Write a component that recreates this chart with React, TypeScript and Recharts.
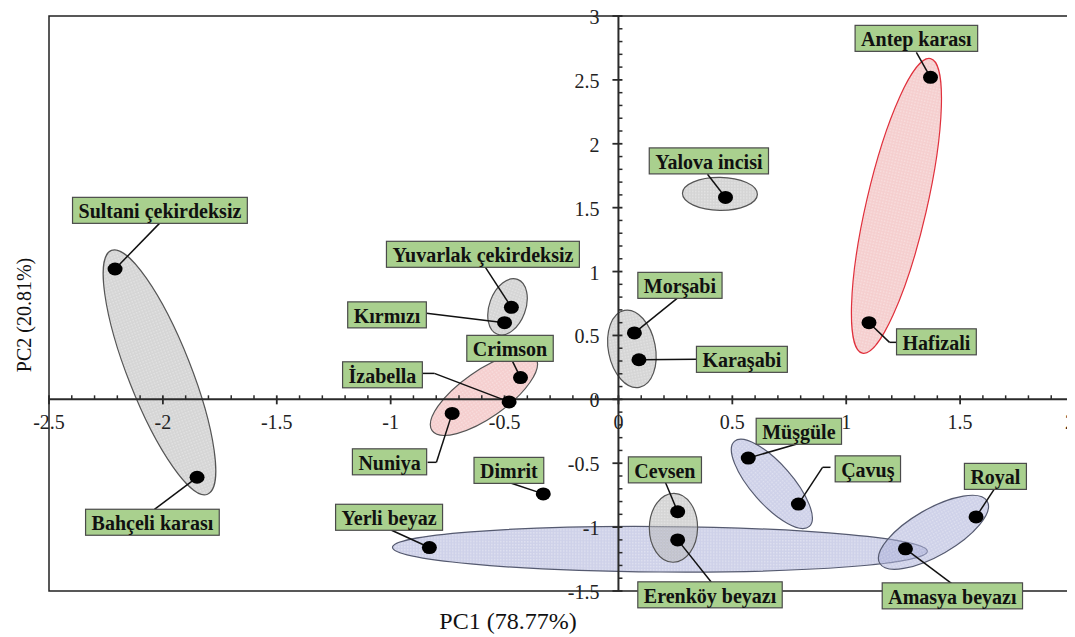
import {
  ScatterChart,
  Scatter,
  XAxis,
  YAxis,
  ReferenceArea,
  ReferenceLine,
  ReferenceDot,
} from "recharts";

const cultivars = [
  "Sultani çekirdeksiz", "Bahçeli karası", "Yuvarlak çekirdeksiz", "Kırmızı", "Crimson",
  "İzabella", "Nuniya", "Dimrit", "Yerli beyaz", "Cevsen",
  "Erenköy beyazı", "Morşabi", "Karaşabi", "Yalova incisi", "Antep karası",
  "Hafizali", "Müşgüle", "Çavuş", "Royal", "Amasya beyazı",
];
const pc1 = [-2.21, -1.85, -0.47, -0.5, -0.43, -0.48, -0.73, -0.33, -0.83, 0.26, 0.26, 0.07, 0.09, 0.47, 1.37, 1.1, 0.57, 0.79, 1.57, 1.26];
const pc2 = [1.02, -0.61, 0.72, 0.6, 0.17, -0.02, -0.11, -0.74, -1.16, -0.88, -1.1, 0.52, 0.31, 1.58, 2.52, 0.6, -0.46, -0.82, -0.92, -1.17];

// label box centres (data units)
const labelX = [-2.013, -2.046, -0.595, -1.016, -0.476, -1.036, -1.005, -0.481, -1.007, 0.204, 0.402, 0.27, 0.542, 0.397, 1.308, 1.396, 0.792, 1.095, 1.655, 1.466];
const labelY = [1.479, -0.962, 1.135, 0.661, 0.399, 0.192, -0.489, -0.556, -0.923, -0.552, -1.53, 0.892, 0.313, 1.866, 2.825, 0.45, -0.25, -0.544, -0.603, -1.538];
// leader path from each dot to its box edge
const leaders: [number, number][][] = [
  [[-2.015, 1.377]],
  [[-2.037, -0.861]],
  [[-0.584, 1.033]],
  [[-0.843, 0.673]],
  [[-0.465, 0.297]],
  [[-0.808, 0.203], [-0.86, 0.203]],
  [[-0.799, -0.493], [-0.838, -0.493]],
  [[-0.47, -0.657]],
  [[-0.996, -1.025]],
  [[0.206, -0.649]],
  [[0.408, -1.432]],
  [[0.263, 0.798]],
  [[0.347, 0.313]],
  [[0.391, 1.761]],
  [[1.308, 2.715]],
  [[1.19, 0.446], [1.22, 0.446]],
  [[0.795, -0.344]],
  [[0.896, -0.532], [0.931, -0.532]],
  [[1.655, -0.689]],
  [[1.462, -1.44]],
];

// group ellipses: ends of the major axis + minor/major ratio
const ellipses = [
  { x1: -0.992, y1: -1.158, x2: 1.356, y2: -1.189, ratio: 0.085, kind: "blue" },
  { x1: -2.226, y1: 1.166, x2: -1.804, y2: -0.743, ratio: 0.24, kind: "gray" },
  { x1: -0.443, y1: 0.939, x2: -0.531, y2: 0.509, ratio: 0.62, kind: "gray" },
  { x1: -0.818, y1: -0.245, x2: -0.363, y2: 0.323, ratio: 0.37, kind: "pink" },
  { x1: 0.026, y1: 0.696, x2: 0.092, y2: 0.094, ratio: 0.6, kind: "gray" },
  { x1: 0.281, y1: 1.612, x2: 0.61, y2: 1.604, ratio: 0.44, kind: "gray" },
  { x1: 1.37, y1: 2.667, x2: 1.071, y2: 0.361, ratio: 0.2, kind: "red" },
  { x1: 0.244, y1: -0.736, x2: 0.239, y2: -1.275, ratio: 0.7, kind: "gray" },
  { x1: 0.509, y1: -0.329, x2: 0.838, y2: -0.994, ratio: 0.36, kind: "blue" },
  { x1: 1.147, y1: -1.283, x2: 1.619, y2: -0.798, ratio: 0.375, kind: "blue" },
];

const xTicks = [-2.5, -2, -1.5, -1, -0.5, 0, 0.5, 1, 1.5, 2];
const yTicks = [-1.5, -1, -0.5, 0, 0.5, 1, 1.5, 2, 2.5, 3];

const FONT = '"Liberation Serif", "Times New Roman", serif';
const styles: Record<string, { fill: string; stroke: string }> = {
  gray: { fill: "#b2b2b2", stroke: "#555" },
  blue: { fill: "#a6abd6", stroke: "#555a70" },
  pink: { fill: "#eca6a6", stroke: "#555" },
  red: { fill: "#eca6a6", stroke: "#e0303c" },
};

const points = cultivars.map((name, i) => ({ name, x: pc1[i], y: pc2[i] }));

function minorTicks(lo: number, hi: number) {
  const r: number[] = [];
  for (let k = Math.round(lo * 10); k <= Math.round(hi * 10); k++) if (k % 5 !== 0) r.push(k / 10);
  return r;
}

let ctx: CanvasRenderingContext2D | null = null;
function textWidth(s: string) {
  if (!ctx) ctx = document.createElement("canvas").getContext("2d");
  if (!ctx) return s.length * 10;
  ctx.font = `bold 20px ${FONT}`;
  return ctx.measureText(s).width;
}

const ellipseShape = (e: (typeof ellipses)[number], i: number) => (p: any) => {
  const { x, y, width: w, height: h } = p;
  const rising = (e.x2 - e.x1) * (e.y2 - e.y1) > 0;
  const [ax, ay, bx, by] = rising ? [x, y + h, x + w, y] : [x, y, x + w, y + h];
  const cx = (ax + bx) / 2, cy = (ay + by) / 2;
  const a = Math.hypot(bx - ax, by - ay) / 2;
  const ang = (Math.atan2(by - ay, bx - ax) * 180) / Math.PI;
  const st = styles[e.kind];
  const id = `pat-${i}`;
  return (
    <g>
      <defs>
        <pattern id={id} width={3} height={3} patternUnits="userSpaceOnUse">
          <rect width={3} height={3} fill={st.fill} />
          <rect width={1.5} height={1.5} fill="#fff" opacity={0.35} />
        </pattern>
      </defs>
      <ellipse
        cx={cx} cy={cy} rx={a} ry={a * e.ratio}
        transform={`rotate(${ang} ${cx} ${cy})`}
        fill={`url(#${id})`} fillOpacity={0.55}
        stroke={st.stroke} strokeWidth={1.2}
      />
    </g>
  );
};

const boxShape = (text: string) => (p: any) => {
  const w = textWidth(text) + 12, h = 26;
  return (
    <g>
      <rect x={p.cx - w / 2} y={p.cy - h / 2} width={w} height={h} fill="#a9d08e" stroke="#4a4a4a" strokeWidth={1.2} />
      <text x={p.cx} y={p.cy + 1} textAnchor="middle" dominantBaseline="central" fontFamily={FONT} fontWeight="bold" fontSize={20} fill="#111">
        {text}
      </text>
    </g>
  );
};

const fmt = (v: number) => String(v);

export default function App() {
  return (
    <div style={{ position: "relative", width: 1067, height: 629, fontFamily: FONT }}>
      <style>{".recharts-surface{overflow:visible}"}</style>
      <ScatterChart width={1067} height={629} margin={{ top: 8, right: 1, bottom: 46, left: 41 }}>
        <XAxis type="number" dataKey="x" domain={[-2.5, 2]} hide allowDataOverflow />
        <YAxis type="number" dataKey="y" domain={[-1.5, 3]} hide allowDataOverflow />

        {ellipses.map((e, i) => (
          <ReferenceArea key={`el-${i}`} x1={e.x1} x2={e.x2} y1={e.y1} y2={e.y2} ifOverflow="visible" shape={ellipseShape(e, i)} />
        ))}

        {/* plot frame */}
        <ReferenceArea x1={-2.5} x2={2} y1={-1.5} y2={3} ifOverflow="visible" fill="none" fillOpacity={0} stroke="#222" strokeWidth={1.5} />

        {/* axes through the origin */}
        <ReferenceLine y={0} stroke="#2a2a2a" strokeWidth={2} ifOverflow="visible" />
        <ReferenceLine x={0} stroke="#2a2a2a" strokeWidth={2} ifOverflow="visible" />

        {minorTicks(-2.5, 2).map((v) => (
          <ReferenceDot key={`mx-${v}`} x={v} y={0} ifOverflow="visible"
            shape={(p: any) => <line x1={p.cx} x2={p.cx} y1={p.cy - 4} y2={p.cy} stroke="#2a2a2a" strokeWidth={1.5} />} />
        ))}
        {minorTicks(-1.5, 3).map((v) => (
          <ReferenceDot key={`my-${v}`} x={0} y={v} ifOverflow="visible"
            shape={(p: any) => <line x1={p.cx} x2={p.cx + 4} y1={p.cy} y2={p.cy} stroke="#2a2a2a" strokeWidth={1.5} />} />
        ))}
        {xTicks.map((v, k) => {
          const last = k === xTicks.length - 1;
          return (
            <ReferenceDot key={`tx-${v}`} x={v} y={0} ifOverflow="visible"
              shape={(p: any) => (
                <g>
                  <line x1={p.cx} x2={p.cx} y1={p.cy - 4} y2={p.cy + 5} stroke="#2a2a2a" strokeWidth={1.8} />
                  <text x={last ? p.cx + 1 : p.cx} y={p.cy + 23} textAnchor={last ? "end" : "middle"} dominantBaseline="central" fontFamily={FONT} fontSize={20} fill="#222">
                    {fmt(v)}
                  </text>
                </g>
              )} />
          );
        })}
        {yTicks.map((v) => (
          <ReferenceDot key={`ty-${v}`} x={0} y={v} ifOverflow="visible"
            shape={(p: any) => (
              <g>
                <line x1={p.cx - 6} x2={p.cx + 4} y1={p.cy} y2={p.cy} stroke="#2a2a2a" strokeWidth={1.8} />
                <text x={p.cx - 19} y={p.cy + 1} textAnchor="end" dominantBaseline="central" fontFamily={FONT} fontSize={20} fill="#222">
                  {fmt(v)}
                </text>
              </g>
            )} />
        ))}

        {leaders.flatMap((path, i) => {
          const pts: [number, number][] = [[pc1[i], pc2[i]], ...path];
          return pts.slice(1).map((q, j) => (
            <ReferenceLine key={`ld-${i}-${j}`} ifOverflow="visible" stroke="#111" strokeWidth={1.5}
              segment={[{ x: pts[j][0], y: pts[j][1] }, { x: q[0], y: q[1] }]} />
          ));
        })}

        <Scatter data={points} isAnimationActive={false}
          shape={(p: any) => <ellipse cx={p.cx} cy={p.cy} rx={7.5} ry={6.5} fill="#000" />} />

        {cultivars.map((name, i) => (
          <ReferenceDot key={`lb-${i}`} x={labelX[i]} y={labelY[i]} ifOverflow="visible" shape={boxShape(name)} />
        ))}
      </ScatterChart>

      <div style={{ position: "absolute", left: 500, top: 613, transform: "translate(-50%, -50%)", fontSize: 24, whiteSpace: "nowrap", color: "#111" }}>
        PC1 (78.77%)
      </div>
      <div style={{ position: "absolute", left: 16, top: 307, transform: "translate(-50%, -50%) rotate(-90deg)", fontSize: 20, whiteSpace: "nowrap", color: "#111" }}>
        PC2 (20.81%)
      </div>
    </div>
  );
}
